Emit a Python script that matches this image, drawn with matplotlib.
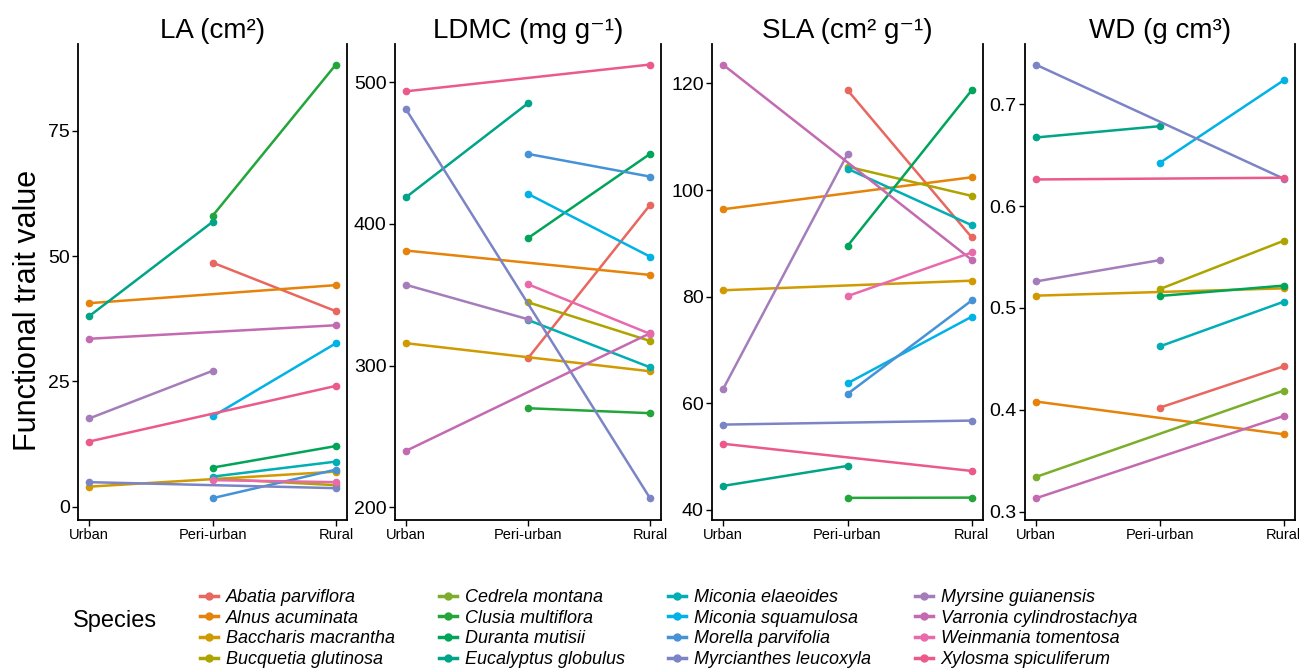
import numpy as np
import matplotlib
matplotlib.use("Agg")
import matplotlib.pyplot as plt
from matplotlib.lines import Line2D

plt.rcParams['font.family'] = ['Liberation Sans', 'DejaVu Sans']

nan = np.nan
sites = ['Urban', 'Peri-urban', 'Rural']

species = ['Abatia parviflora', 'Alnus acuminata', 'Baccharis macrantha',
           'Bucquetia glutinosa', 'Cedrela montana', 'Clusia multiflora',
           'Duranta mutisii', 'Eucalyptus globulus', 'Miconia elaeoides',
           'Miconia squamulosa', 'Morella parvifolia', 'Myrcianthes leucoxyla',
           'Myrsine guianensis', 'Varronia cylindrostachya', 'Weinmania tomentosa',
           'Xylosma spiculiferum']

colors = ['#E8675F', '#E5830A', '#D09A00', '#ADA400', '#7BAE2A', '#22A63A',
          '#00A55A', '#00A487', '#00AEB4', '#00B2E6', '#4593D6', '#7B85C6',
          '#A47DBA', '#C36AB0', '#E86AAA', '#EB5A8A']

# values per species: [Urban, Peri-urban, Rural]
LA = [[nan, 48.7, 39.0], [40.6, nan, 44.2], [4.0, nan, 7.0], [nan, 5.6, 4.3],
      [nan, nan, nan], [nan, 58.0, 88.2], [nan, 7.8, 12.1], [38.0, 56.8, nan],
      [nan, 6.0, 9.0], [nan, 18.0, 32.6], [nan, 1.7, 7.4], [4.9, nan, 3.7],
      [17.6, 27.1, nan], [33.5, nan, 36.2], [nan, 5.3, 4.9], [13.0, nan, 24.1]]

LDMC = [[nan, 305.2, 413.4], [381.2, nan, 364.0], [315.8, nan, 296.0], [nan, 344.7, 317.4],
        [nan, nan, nan], [nan, 269.9, 266.4], [nan, 390.0, 449.4], [418.8, 485.2, nan],
        [nan, 332.2, 298.8], [nan, 421.2, 376.9], [nan, 449.4, 433.4], [481.0, nan, 206.4],
        [357.0, 332.7, nan], [239.8, nan, 322.8], [nan, 357.4, 322.4], [493.6, nan, 512.5]]

SLA = [[nan, 118.75, 91.1], [96.4, nan, 102.4], [81.2, nan, 83.0], [nan, 104.4, 98.9],
       [nan, nan, nan], [nan, 42.25, 42.3], [nan, 89.5, 118.75], [44.5, 48.25, nan],
       [nan, 104.0, 93.4], [nan, 63.75, 76.25], [nan, 61.75, 79.3], [56.0, nan, 56.75],
       [62.7, 106.75, nan], [123.5, nan, 86.9], [nan, 80.1, 88.3], [52.4, nan, 47.3]]

WD = [[nan, 0.4023, 0.4428], [0.4082, nan, 0.3761], [0.5121, nan, 0.5193], [nan, 0.5186, 0.566],
      [0.3343, nan, 0.419], [nan, nan, nan], [nan, 0.5118, 0.522], [0.6673, 0.6784, nan],
      [nan, 0.4624, 0.5062], [nan, 0.6425, 0.7235], [nan, nan, nan], [0.7386, nan, 0.6268],
      [0.5261, 0.547, nan], [0.3134, nan, 0.3941], [nan, nan, nan], [0.6261, nan, 0.6278]]

traits = [LA, LDMC, SLA, WD]
titles = ['LA (cm²)', 'LDMC (mg g⁻¹)', 'SLA (cm² g⁻¹)', 'WD (g cm³)']
ylims = [(-2.65, 92.3), (191, 527), (38.1, 127.4), (0.292, 0.759)]
yticks = [[0, 25, 50, 75], [200, 300, 400, 500], [40, 60, 80, 100, 120], [0.3, 0.4, 0.5, 0.6, 0.7]]
lefts = [78, 395, 712, 1025]
widths = [269, 266, 271, 270]

W, H = 1299, 670
fig = plt.figure(figsize=(W / 100, H / 100), dpi=100)

x = np.arange(3)
for k in range(4):
    ax = fig.add_axes([lefts[k] / W, 1 - 520 / H, widths[k] / W, 476 / H])
    for i, vals in enumerate(traits[k]):
        v = np.array(vals, dtype=float)
        m = ~np.isnan(v)
        if m.sum() == 0:
            continue
        ax.plot(x[m], v[m], '-o', color=colors[i], lw=1.8, ms=4.5, solid_capstyle='round')
    ax.set_xlim(-0.09, 2.09)
    ax.set_ylim(*ylims[k])
    ax.set_xticks(x)
    ax.set_xticklabels(sites, fontsize=10.5)
    ax.set_yticks(yticks[k])
    ax.set_yticklabels([f'{t:g}' for t in yticks[k]], fontsize=14)
    ax.spines['top'].set_visible(False)
    for s in ['left', 'right', 'bottom']:
        ax.spines[s].set_linewidth(1.3)
    ax.tick_params(axis='both', length=4, width=1.0, pad=2)
    ax.set_title(titles[k], fontsize=20, pad=4)

fig.text(28 / W, 1 - 310 / H, 'Functional trait value', rotation=90, fontsize=22,
         ha='center', va='center')

handles = [Line2D([0], [0], color=c, lw=2.5, marker='o', ms=5) for c in colors]
fig.legend(handles, species, ncol=4, loc='upper left', bbox_to_anchor=(191 / W, 1 - 580 / H),
           frameon=False, prop={'style': 'italic', 'size': 13}, handlelength=1.0,
           handletextpad=0.45, labelspacing=0.2, columnspacing=2.4, borderpad=0)
fig.text(73 / W, 1 - 621 / H, 'Species', fontsize=17, ha='left', va='center')

fig.savefig('out.png', dpi=100)
